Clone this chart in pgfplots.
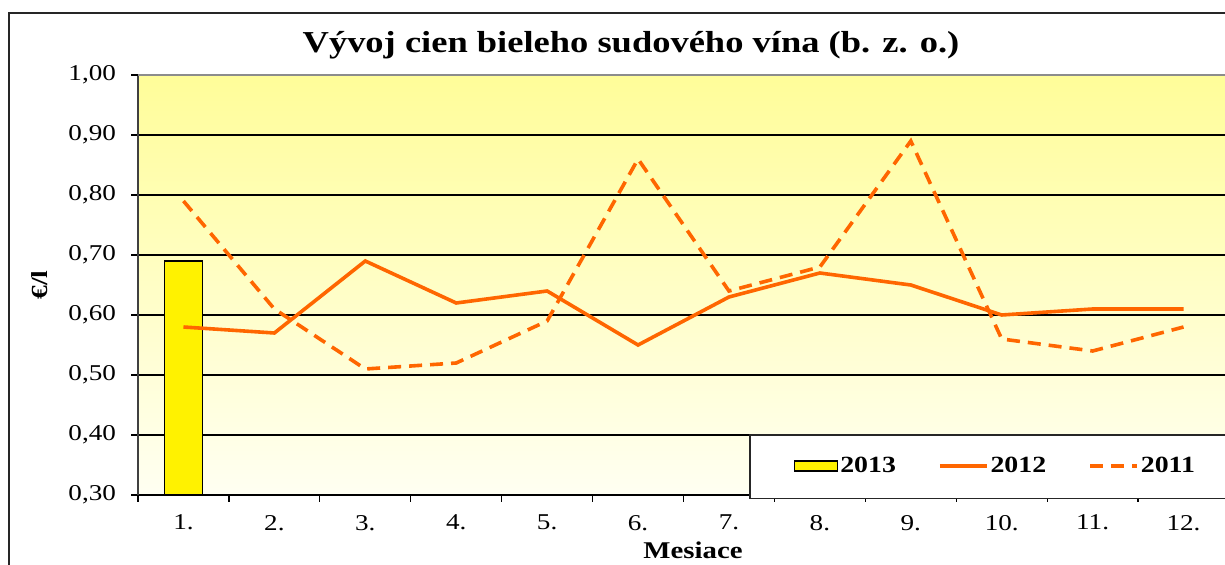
\documentclass[border=0pt]{standalone}
\usepackage{pgfplots}
\pgfplotsset{compat=1.18}
\usepackage{fontspec}
\setmainfont{Liberation Serif}[FakeStretch=1.2]
\definecolor{lineor}{HTML}{FF6600}
\definecolor{bgtop}{HTML}{FFFD99}
\definecolor{bgbot}{HTML}{FFFFF2}
\pgfplotsset{
  linelegend/.style={legend image code/.code={\draw[##1] (0pt,0pt) -- (23.5pt,0pt);}},
  barlegend/.style={legend image code/.code={\draw[fill=yellow, draw=black, line width=0.6pt] (0pt,-2.5pt) rectangle (21.5pt,2.5pt);}},
}
\begin{document}
\begin{tikzpicture}
\useasboundingbox (0,0) rectangle (612.5pt,282.5pt);
\draw[black!85, line width=0.8pt] (4.5pt,-5pt) rectangle (630pt,276pt);
\node[anchor=base, font=\fontsize{15.2}{18}\selectfont\bfseries] at (315.5pt,256pt) {Vývoj cien bieleho sudového vína (b. z. o.)};
\begin{axis}[
  at={(69pt,35pt)}, anchor=south west,
  scale only axis, width=545.5pt, height=210pt,
  xmin=0.5, xmax=12.5, ymin=0.3, ymax=1.0,
  clip mode=individual,
  axis lines=left, axis line style={-, black, line width=0.7pt},
  y axis line style={black!75},
  axis background/.style={shade, top color=bgtop, bottom color=bgbot},
  xtick={1,...,12},
  xticklabels={1.,2.,3.,4.,5.,6.,7.,8.,9.,10.,11.,12.},
  major x tick style={draw=none},
  minor xtick={0.5,1.5,...,12.5},
  minor x tick style={black, line width=0.6pt},
  ytick={0.3,0.4,...,0.9},
  extra y ticks={1.0},
  extra y tick style={grid style={black!45, line width=1.2pt}},
  ymajorgrids,
  grid style={black, line width=0.6pt},
  tick align=outside,
  major tick length=3.5pt, minor tick length=3.5pt,
  y tick style={black, line width=0.6pt},
  /pgf/number format/assume math mode=true,
  /pgf/number format/fixed, /pgf/number format/fixed zerofill,
  /pgf/number format/precision=2, /pgf/number format/use comma,
  ticklabel style={font=\fontsize{11.3}{13}\selectfont},
  xticklabel style={yshift=-3pt},
  yticklabel style={xshift=-4pt},
  xlabel={Mesiace}, ylabel={€/l},
  xlabel style={font=\fontsize{12}{14}\selectfont\bfseries, at={(axis description cs:0.5087,-0.131)}, anchor=center},
  ylabel style={font=\fontsize{11.5}{14}\selectfont\bfseries, at={(axis description cs:-0.0898,0.5)}, anchor=center},
  legend columns=3,
  legend style={at={(rel axis cs:0.601,0.069)}, anchor=west, draw=none, fill=none,
    inner sep=0pt, font=\fontsize{11.6}{13}\selectfont\bfseries,
    nodes={inner xsep=1pt, inner ysep=1pt}, column sep=0pt},
  /tikz/every even column/.append style={column sep=20pt},
]
\addplot[ybar, bar width=19pt, fill=yellow, draw=black, line width=0.6pt, barlegend]
  coordinates {(1,0.69)};
\addlegendentry{2013}
\addplot[lineor, line width=1.8pt, linelegend]
  coordinates {(1,0.58) (2,0.57) (3,0.69) (4,0.62) (5,0.64) (6,0.55) (7,0.63) (8,0.67) (9,0.65) (10,0.60) (11,0.61) (12,0.61)};
\addlegendentry{2012}
\addplot[lineor, line width=1.8pt, dash pattern=on 6.5pt off 4pt, linelegend]
  coordinates {(1,0.79) (2,0.61) (3,0.51) (4,0.52) (5,0.59) (6,0.86) (7,0.64) (8,0.68) (9,0.89) (10,0.56) (11,0.54) (12,0.58)};
\addlegendentry{2011}
\draw[fill=white, draw=black!85, line width=0.7pt] (rel axis cs:0.561,0.143) rectangle (rel axis cs:1.2,-0.008);
\end{axis}
\end{tikzpicture}
\end{document}
